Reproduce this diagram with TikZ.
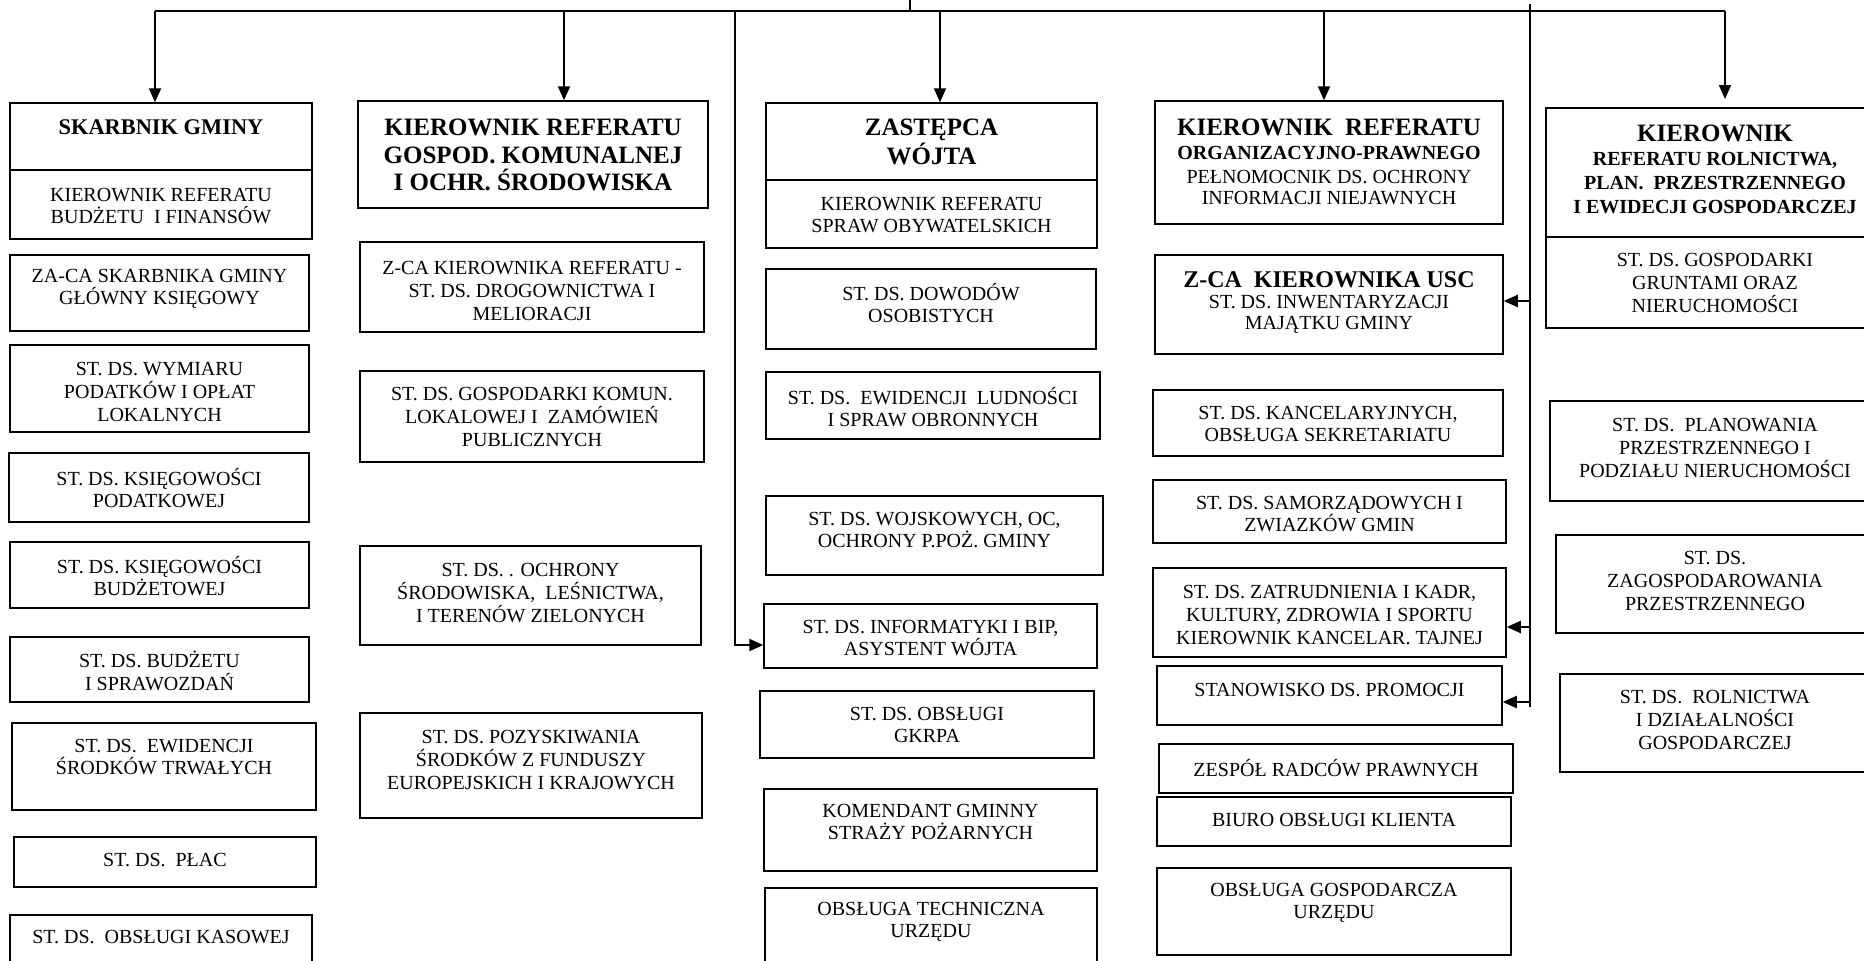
\documentclass[tikz,border=0pt]{standalone}
\usepackage{fontspec}
\setmainfont{Liberation Serif}
\usetikzlibrary{arrows.meta,fit}
\newcommand\fb{\fontsize{10}{11.3}\selectfont}
\newcommand\fhd{\fontsize{12.5}{13.8}\selectfont\bfseries}
\newcommand\fsb{\fontsize{10}{11.3}\selectfont\bfseries}
\tikzset{
 box/.style={draw,line width=0.75pt,inner sep=0pt},
 divl/.style={line width=0.75pt},
 txt/.style={align=center,inner sep=0pt,font=\fb},
 conn/.style={line width=1pt},
 arr/.style={line width=1pt,-{Triangle[length=7pt,width=6pt]}},
}
\begin{document}
\begin{tikzpicture}[x=0.5pt,y=-0.5pt]
\useasboundingbox (0,0) rectangle (1864,960);
\clip (0,0) rectangle (1864,960);
% ---------------- column 1
\node[box,fit={(10,103)(312,239)}] (s1) {};
\draw[divl] (s1.west |- 0,170) -- (s1.east |- 0,170);
\node[txt,font=\fontsize{11.2}{13}\selectfont\bfseries] (s1h) at (s1 |- 0,127) {SKARBNIK GMINY};
\node[txt] (s1b) at (s1 |- 0,206) {KIEROWNIK REFERATU\\BUDŻETU~ I FINANSÓW};
\node[box,fit={(10,255)(309,331)}] (s2) {};
\node[txt] (s2t) at (s2 |- 0,289) {ZA-CA SKARBNIKA GMINY\\GŁÓWNY KSIĘGOWY};
\node[box,fit={(10,345)(309,432)}] (s3) {};
\node[txt] (s3t) at (s3 |- 0,392) {ST. DS. WYMIARU\\PODATKÓW I OPŁAT\\LOKALNYCH};
\node[box,fit={(9,453)(309,522)}] (s4) {};
\node[txt] (s4t) at (s4 |- 0,488) {ST. DS. KSIĘGOWOŚCI\\PODATKOWEJ};
\node[box,fit={(10,542)(309,608)}] (s5) {};
\node[txt] (s5t) at (s5 |- 0,576) {ST. DS. KSIĘGOWOŚCI\\BUDŻETOWEJ};
\node[box,fit={(10,637)(309,702)}] (s6) {};
\node[txt] (s6t) at (s6 |- 0,671) {ST. DS. BUDŻETU\\I SPRAWOZDAŃ};
\node[box,fit={(12,723)(316,810)}] (s7) {};
\node[txt] (s7t) at (s7 |- 0,757) {ST. DS.~ EWIDENCJI\\ŚRODKÓW TRWAŁYCH};
\node[box,fit={(14,837)(316,887)}] (s8) {};
\node[txt] (s8t) at (s8 |- 0,860) {ST. DS.~ PŁAC};
\node[box,fit={(10,915)(312,975)}] (s9) {};
\node[txt] (s9t) at (s9 |- 0,937) {ST. DS.~ OBSŁUGI KASOWEJ};
% ---------------- column 2
\node[box,fit={(358,101)(708,208)}] (g1) {};
\node[txt,font=\fhd] (g1t) at (g1 |- 0,155) {KIEROWNIK REFERATU\\GOSPOD. KOMUNALNEJ\\I OCHR. ŚRODOWISKA};
\node[box,fit={(360,242)(704,332)}] (g2) {};
\node[txt] (g2t) at (g2 |- 0,291) {Z-CA KIEROWNIKA REFERATU -\\ST. DS. DROGOWNICTWA I\\MELIORACJI};
\node[box,fit={(360,371)(704,462)}] (g3) {};
\node[txt] (g3t) at (g3 |- 0,417) {ST. DS. GOSPODARKI KOMUN.\\LOKALOWEJ I~ ZAMÓWIEŃ\\PUBLICZNYCH};
\node[box,fit={(360,546)(701,645)}] (g4) {};
\node[txt] (g4t) at (g4 |- 0,593) {ST. DS. . OCHRONY\\ŚRODOWISKA,~ LEŚNICTWA,\\I TERENÓW ZIELONYCH};
\node[box,fit={(360,713)(702,818)}] (g5) {};
\node[txt] (g5t) at (g5 |- 0,760) {ST. DS. POZYSKIWANIA\\ŚRODKÓW Z FUNDUSZY\\EUROPEJSKICH I KRAJOWYCH};
% ---------------- column 3
\node[box,fit={(766,103)(1097,248)}] (z1) {};
\draw[divl] (z1.west |- 0,180) -- (z1.east |- 0,180);
\node[txt,font=\fontsize{12.5}{14.3}\selectfont\bfseries] (z1h) at (z1 |- 0,142) {ZASTĘPCA\\WÓJTA};
\node[txt] (z1b) at (z1 |- 0,215) {KIEROWNIK REFERATU\\SPRAW OBYWATELSKICH};
\node[box,fit={(766,269)(1096,349)}] (z2) {};
\node[txt] (z2t) at (z2 |- 0,303) {ST. DS. DOWODÓW\\OSOBISTYCH};
\node[box,fit={(766,372)(1100,439)}] (z3) {};
\node[txt] (z3t) at (z3 |- 0,407) {ST. DS.~ EWIDENCJI~ LUDNOŚCI\\I SPRAW OBRONNYCH};
\node[box,fit={(766,496)(1103,575)}] (z4) {};
\node[txt] (z4t) at (z4 |- 0,530) {ST. DS. WOJSKOWYCH, OC,\\OCHRONY P.POŻ. GMINY};
\node[box,fit={(764,604)(1097,668)}] (z5) {};
\node[txt] (z5t) at (z5 |- 0,638) {ST. DS. INFORMATYKI I BIP,\\ASYSTENT WÓJTA};
\node[box,fit={(760,691)(1094,758)}] (z6) {};
\node[txt] (z6t) at (z6 |- 0,725) {ST. DS. OBSŁUGI\\GKRPA};
\node[box,fit={(764,789)(1097,871)}] (z7) {};
\node[txt] (z7t) at (z7 |- 0,822) {KOMENDANT GMINNY\\STRAŻY POŻARNYCH};
\node[box,fit={(765,888)(1097,975)}] (z8) {};
\node[txt] (z8t) at (z8 |- 0,922) {OBSŁUGA TECHNICZNA\\URZĘDU};
% ---------------- column 4
\node[box,fit={(1155,101)(1503,224)}] (o1) {};
\node[txt,font=\fhd] (o1a) at (o1 |- 0,127) {KIEROWNIK~ REFERATU};
\node[txt,font=\fsb] (o1b) at (o1 |- 0,153) {ORGANIZACYJNO-PRAWNEGO};
\node[txt] (o1c) at (o1 |- 0,177) {PEŁNOMOCNIK DS. OCHRONY};
\node[txt] (o1d) at (o1 |- 0,198) {INFORMACJI NIEJAWNYCH};
\node[box,fit={(1155,255)(1503,354)}] (o2) {};
\node[txt,font=\fontsize{12}{13}\selectfont\bfseries] (o2a) at (o2 |- 0,280) {Z-CA~ KIEROWNIKA USC};
\node[txt] (o2b) at (o2 |- 0,302) {ST. DS. INWENTARYZACJI};
\node[txt] (o2c) at (o2 |- 0,325) {MAJĄTKU GMINY};
\node[box,fit={(1153,390)(1503,456)}] (o3) {};
\node[txt] (o3t) at (o3 |- 0,424) {ST. DS. KANCELARYJNYCH,\\OBSŁUGA SEKRETARIATU};
\node[box,fit={(1153,480)(1506,543)}] (o4) {};
\node[txt] (o4t) at (o4 |- 0,514) {ST. DS. SAMORZĄDOWYCH I\\ZWIAZKÓW GMIN};
\node[box,fit={(1153,568)(1506,657)}] (o5) {};
\node[txt] (o5t) at (o5 |- 0,615) {ST. DS. ZATRUDNIENIA I KADR,\\KULTURY, ZDROWIA I SPORTU\\KIEROWNIK KANCELAR. TAJNEJ};
\node[box,fit={(1157,666)(1502,725)}] (o6) {};
\node[txt] (o6t) at (o6 |- 0,690) {STANOWISKO DS. PROMOCJI};
\node[box,fit={(1159,744)(1513,793)}] (o7) {};
\node[txt] (o7t) at (o7 |- 0,768) {ZESPÓŁ RADCÓW PRAWNYCH};
\node[box,fit={(1157,797)(1511,846)}] (o8) {};
\node[txt] (o8t) at (o8 |- 0,820) {BIURO OBSŁUGI KLIENTA};
\node[box,fit={(1157,868)(1511,955)}] (o9) {};
\node[txt] (o9t) at (o9 |- 0,903) {OBSŁUGA GOSPODARCZA\\URZĘDU};
% ---------------- column 5
\node[box,fit={(1546,108)(1880,328)}] (r1) {};
\draw[divl] (r1.west |- 0,237) -- (r1.east |- 0,237);
\node[txt,font=\fhd] (r1a) at (1715,133) {KIEROWNIK};
\node[txt,font=\fsb] (r1b) at (1715,160) {REFERATU ROLNICTWA,};
\node[txt,font=\fsb] (r1c) at (1715,183) {PLAN.~ PRZESTRZENNEGO};
\node[txt,font=\fsb] (r1d) at (1715,207) {I EWIDECJI GOSPODARCZEJ};
\node[txt] (r1e) at (1715,283) {ST. DS. GOSPODARKI\\GRUNTAMI ORAZ\\NIERUCHOMOŚCI};
\node[box,fit={(1550,401)(1880,501)}] (r2) {};
\node[txt] (r2t) at (1715,448) {ST. DS.~ PLANOWANIA\\PRZESTRZENNEGO I\\PODZIAŁU NIERUCHOMOŚCI};
\node[box,fit={(1556,535)(1880,633)}] (r3) {};
\node[txt] (r3t) at (1715,581) {ST. DS.\\ZAGOSPODAROWANIA\\PRZESTRZENNEGO};
\node[box,fit={(1560,674)(1880,772)}] (r4) {};
\node[txt] (r4t) at (1715,720) {ST. DS.~ ROLNICTWA\\I DZIAŁALNOŚCI\\GOSPODARCZEJ};
% ---------------- connectors
\coordinate (root) at (910,0);
\coordinate (busm) at (910,11);
\coordinate (busL) at (155,11);
\coordinate (busR) at (1725,11);
\coordinate (b2) at (564,11);
\coordinate (b3) at (940,11);
\coordinate (b4) at (1324,11);
\coordinate (b5end) at (1725,99);
\coordinate (vl) at (735,11);
\coordinate (vrtop) at (1530,4);
\coordinate (vrbot) at (1530,707);
\draw[conn] (root) -- (busm);
\draw[line width=1.2pt] (busL) -- (busR);
\draw[arr] (busL) -- (busL |- s1.north);
\draw[arr] (b2) -- (b2 |- g1.north);
\draw[arr] (b3) -- (b3 |- z1.north);
\draw[arr] (b4) -- (b4 |- o1.north);
\draw[arr] (busR) -- (b5end);
\draw[arr] (vl) |- ([yshift=-4.5pt]z5.west);
\draw[conn] (vrtop) -- (vrbot);
\draw[arr] (vrtop |- 0,301) -- (o2.east |- 0,301);
\draw[arr] (vrtop |- 0,627) -- (o5.east |- 0,627);
\draw[arr] (vrtop |- 0,702) -- (o6.east |- 0,702);
\end{tikzpicture}
\end{document}
